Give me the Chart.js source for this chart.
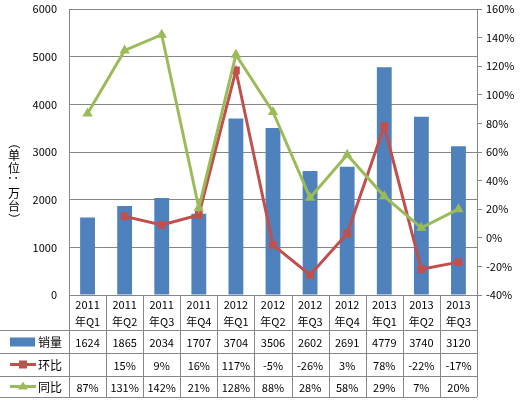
<!DOCTYPE html>
<html>
<head>
<meta charset="utf-8">
<script src="https://cdn.jsdelivr.net/npm/chart.js@4"></script>
<style>
  html, body { margin: 0; padding: 0; background: #fff; }
  #wrap { width: 523px; height: 400px; }
</style>
</head>
<body>
<div id="wrap"><canvas id="chart" width="523" height="400"></canvas></div>
<script>
// categories: year line + quarter line
const years = ['2011', '2011', '2011', '2011', '2012', '2012', '2012', '2012', '2013', '2013', '2013'];
const quarters = ['年Q1', '年Q2', '年Q3', '年Q4', '年Q1', '年Q2', '年Q3', '年Q4', '年Q1', '年Q2', '年Q3'];

// series
const sales = [1624, 1865, 2034, 1707, 3704, 3506, 2602, 2691, 4779, 3740, 3120];   // 销量 (万台)
const qoq = [null, 15, 9, 16, 117, -5, -26, 3, 78, -22, -17];                        // 环比 %
const yoy = [87, 131, 142, 21, 128, 88, 28, 58, 29, 7, 20];                          // 同比 %

const seriesNames = ['销量', '环比', '同比'];
const axisTitle = '（单位：万台）';

const FONT = '"Noto Sans CJK SC", "Noto Sans", sans-serif';
const gridColor = '#868686';
const blue = '#4F81BD', red = '#C0504D', green = '#9BBB59';

// draws the vertical axis title and the data table under the plot
const tablePlugin = {
    id: 'dataTable',
    afterDraw(chart) {
        const ctx = chart.ctx;
        const x = chart.scales.x;
        const area = chart.chartArea;
        const n = years.length;
        const colW = (area.right - area.left) / n;
        const top = area.bottom;
        const rowLines = [top + 35, top + 58, top + 81, top + 102];

        ctx.save();
        ctx.strokeStyle = gridColor;
        ctx.lineWidth = 1;
        ctx.beginPath();
        for (let i = 0; i <= n; i++) {
            const px = Math.round(area.left + i * colW) + 0.5;
            ctx.moveTo(px, top);
            ctx.lineTo(px, rowLines[3]);
        }
        rowLines.forEach(y => {
            ctx.moveTo(0, y + 0.5);
            ctx.lineTo(area.right, y + 0.5);
        });
        ctx.stroke();

        ctx.fillStyle = '#000';
        ctx.font = '11px ' + FONT;
        ctx.textAlign = 'center';
        ctx.textBaseline = 'middle';
        for (let i = 0; i < n; i++) {
            const cx = x.getPixelForValue(i);
            ctx.fillText(years[i], cx, top + 10);
            ctx.fillText(quarters[i], cx, top + 27);
            ctx.fillText(String(sales[i]), cx, (rowLines[0] + rowLines[1]) / 2 + 1);
            if (qoq[i] !== null) ctx.fillText(qoq[i] + '%', cx, (rowLines[1] + rowLines[2]) / 2 + 1);
            ctx.fillText(yoy[i] + '%', cx, (rowLines[2] + rowLines[3]) / 2 + 1);
        }

        // legend keys in the table
        const ys = [(rowLines[0] + rowLines[1]) / 2, (rowLines[1] + rowLines[2]) / 2, (rowLines[2] + rowLines[3]) / 2];
        ctx.fillStyle = blue;
        ctx.fillRect(10, ys[0] - 4, 25, 9);
        ctx.strokeStyle = red;
        ctx.lineWidth = 3;
        ctx.beginPath(); ctx.moveTo(10, ys[1]); ctx.lineTo(36, ys[1]); ctx.stroke();
        ctx.fillStyle = red;
        ctx.fillRect(19, ys[1] - 4, 8, 8);
        ctx.strokeStyle = green;
        ctx.beginPath(); ctx.moveTo(10, ys[2]); ctx.lineTo(36, ys[2]); ctx.stroke();
        ctx.fillStyle = green;
        ctx.beginPath();
        ctx.moveTo(23, ys[2] - 5); ctx.lineTo(28, ys[2] + 3); ctx.lineTo(18, ys[2] + 3);
        ctx.closePath(); ctx.fill();

        ctx.fillStyle = '#000';
        ctx.font = '12px ' + FONT;
        ctx.textAlign = 'left';
        seriesNames.forEach((s, k) => ctx.fillText(s, 38, ys[k] + 1));

        // vertical axis title, stacked characters
        const chars = Array.from(axisTitle);
        const step = 12.7;
        let cy = (area.top + area.bottom) / 2 + 29 - (chars.length - 1) * step / 2;
        ctx.textAlign = 'center';
        ctx.textBaseline = 'middle';
        chars.forEach(c => {
            ctx.save();
            ctx.translate(14, cy);
            if ('（）：'.includes(c)) ctx.rotate(Math.PI / 2);
            ctx.fillText(c, 0, 0);
            ctx.restore();
            cy += step;
        });
        ctx.restore();
    }
};

const ctx = document.getElementById('chart').getContext('2d');
Chart.defaults.font.family = FONT;
Chart.defaults.font.size = 11;
Chart.defaults.color = '#000';

function noEdgePad(scale) {
    scale.paddingTop = 0;
    scale.paddingBottom = 0;
}

new Chart(ctx, {
    type: 'bar',
    data: {
        labels: years.map((y, i) => y + quarters[i]),
        datasets: [
            { label: seriesNames[0], data: sales, backgroundColor: blue, yAxisID: 'y', order: 3,
              barPercentage: 0.4, categoryPercentage: 1 },
            { type: 'line', label: seriesNames[1], data: qoq, yAxisID: 'y1', order: 2,
              borderColor: red, backgroundColor: red, borderWidth: 3, tension: 0,
              pointStyle: 'rect', pointRadius: 5.5, pointBorderWidth: 0 },
            { type: 'line', label: seriesNames[2], data: yoy, yAxisID: 'y1', order: 1,
              borderColor: green, backgroundColor: green, borderWidth: 3, tension: 0,
              pointStyle: 'triangle', pointRadius: 6, pointBorderWidth: 0 }
        ]
    },
    options: {
        responsive: false,
        animation: false,
        layout: { padding: { top: 9, bottom: 0, left: 0, right: 0 } },
        plugins: {
            legend: { display: false },
            tooltip: { enabled: false }
        },
        scales: {
            x: {
                grid: { display: false },
                border: { display: false },
                ticks: { display: false },
                afterFit(scale) { scale.height = 105; }
            },
            y: {
                position: 'left',
                min: 0, max: 6000,
                ticks: { stepSize: 1000, padding: 12, callback: v => String(v) },
                grid: { color: gridColor, drawTicks: false },
                border: { color: gridColor },
                afterFit(scale) { scale.width = 69; noEdgePad(scale); }
            },
            y1: {
                position: 'right',
                min: -40, max: 160,
                ticks: { stepSize: 20, padding: 4, callback: v => v + '%' },
                grid: { drawOnChartArea: false, color: gridColor, tickLength: 5 },
                border: { color: gridColor },
                afterFit(scale) { scale.width = 46; noEdgePad(scale); }
            }
        }
    },
    plugins: [tablePlugin]
});
</script>
</body>
</html>
